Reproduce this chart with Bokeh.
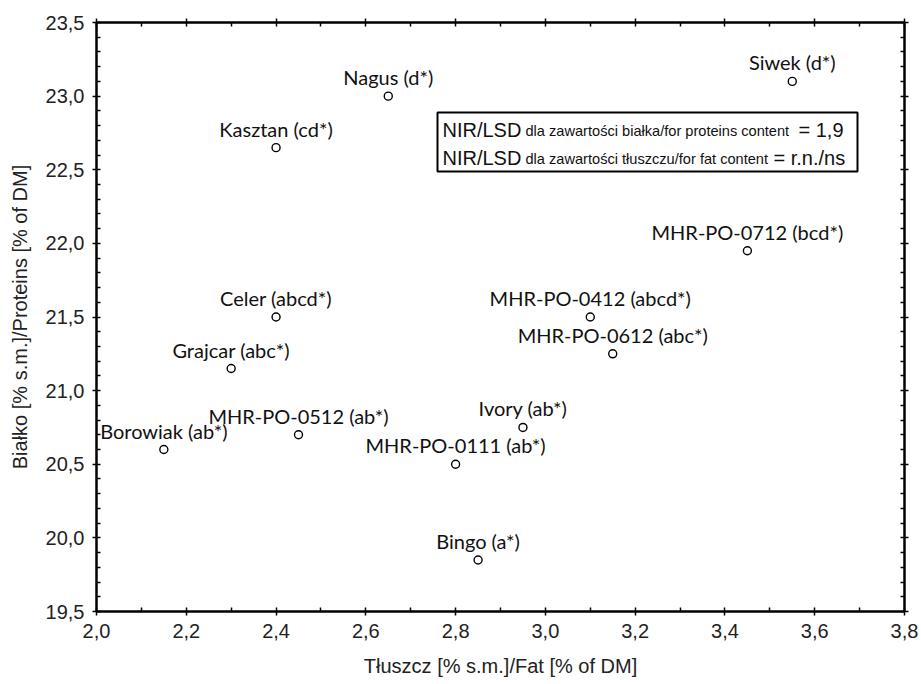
from bokeh.plotting import figure
from bokeh.models import (Range1d, SingleIntervalTicker, LinearAxis,
                          CustomJSTickFormatter, Label, BoxAnnotation, ColumnDataSource)
from bokeh.embed import file_html
from bokeh.resources import INLINE
from bokeh.core.properties import value

# ---------------- data ----------------
names = ["Borowiak (ab*)", "Grajcar (abc*)", "Celer (abcd*)", "Kasztan (cd*)",
         "MHR-PO-0512 (ab*)", "Nagus (d*)", "MHR-PO-0111 (ab*)", "Bingo (a*)",
         "Ivory (ab*)", "MHR-PO-0412 (abcd*)", "MHR-PO-0612 (abc*)",
         "MHR-PO-0712 (bcd*)", "Siwek (d*)"]
fat = [2.15, 2.30, 2.40, 2.40, 2.45, 2.65, 2.80, 2.85, 2.95, 3.10, 3.15, 3.45, 3.55]
protein = [20.60, 21.15, 21.50, 22.65, 20.70, 23.00, 20.50, 19.85, 20.75,
           21.50, 21.25, 21.95, 23.10]

x_title = "Tłuszcz [% s.m.]/Fat [% of DM]"
y_title = "Białko [% s.m.]/Proteins [% of DM]"
lsd_main = ["NIR/LSD", "NIR/LSD"]
lsd_sub = ["dla zawartości białka/for proteins content",
           "dla zawartości tłuszczu/for fat content"]
lsd_val = ["= 1,9", "= r.n./ns"]

X0, X1 = 2.0, 3.8
Y0, Y1 = 19.5, 23.5
EPS = 1e-9

# ---------------- layout ----------------
W, H = 921, 684
FL, FR, FT, FB = 96, 904, 22, 611   # frame edges in pixels

p = figure(width=W, height=H, output_backend="svg", toolbar_location=None,
           x_range=Range1d(X0, X1 + EPS), y_range=Range1d(Y0, Y1 + EPS),
           min_border_left=FL, min_border_right=W - FR,
           min_border_top=FT, min_border_bottom=H - FB,
           x_axis_type=None, y_axis_type=None)
p.background_fill_color = "white"
p.border_fill_color = "white"
p.outline_line_color = "black"
p.outline_line_width = 2

fmt = CustomJSTickFormatter(code="return tick.toFixed(1).replace('.', ',');")
blank = CustomJSTickFormatter(code="return '';")


def make_axis(ticker, formatter, show):
    ax = LinearAxis(ticker=ticker, formatter=formatter)
    ax.axis_line_color = "black"
    ax.axis_line_width = 2
    ax.major_tick_line_color = "black"
    ax.major_tick_line_width = 1.5
    ax.minor_tick_line_color = "black"
    ax.minor_tick_line_width = 1.5
    ax.major_tick_in = 0
    ax.major_tick_out = 4
    ax.minor_tick_in = 4
    ax.minor_tick_out = 0
    if show:
        ax.major_label_text_font = "Liberation Sans"
        ax.major_label_text_font_size = "20px"
        ax.major_label_text_color = "#222222"
        ax.major_label_standoff = 8
        ax.axis_label_text_font = "Liberation Sans"
        ax.axis_label_text_font_size = "20px"
        ax.axis_label_text_font_style = "normal"
        ax.axis_label_text_color = "#222222"
    else:
        ax.major_label_text_font_size = "0px"
        ax.major_label_standoff = 0
    return ax


xt = SingleIntervalTicker(interval=0.2, num_minor_ticks=2)
yt = SingleIntervalTicker(interval=0.5, num_minor_ticks=5)

xb = make_axis(xt, fmt, True)
xb.axis_label = x_title
xb.axis_label_standoff = 14
p.add_layout(xb, "below")

yl = make_axis(yt, fmt, True)
yl.axis_label = y_title
yl.axis_label_standoff = 12
p.add_layout(yl, "left")

p.add_layout(make_axis(SingleIntervalTicker(interval=0.2, num_minor_ticks=2), blank, False), "above")
p.add_layout(make_axis(SingleIntervalTicker(interval=0.5, num_minor_ticks=5), blank, False), "right")

p.xgrid.ticker = xt
p.ygrid.ticker = yt
p.xgrid.grid_line_color = "#d9d9d9"
p.ygrid.grid_line_color = "#d9d9d9"
p.xgrid.grid_line_width = 1
p.ygrid.grid_line_width = 1

src = ColumnDataSource(dict(x=fat, y=protein, name=names))

p.scatter("x", "y", source=src, marker="circle", size=8,
          fill_color="white", line_color="black", line_width=1.4)
p.text("x", "y", text="name", source=src, text_align="center",
       text_baseline="alphabetic", y_offset=-19,
       text_font=value("Lato"), text_font_size="20px", text_color="#111111")


# ---------------- NIR/LSD box ----------------
def dx(px):
    return X0 + (px - FL) / (FR - FL) * (X1 - X0)


def dy(py):
    return Y1 - (py - FT) / (FB - FT) * (Y1 - Y0)


box = BoxAnnotation(left=dx(437), right=dx(857), top=dy(112), bottom=dy(171),
                    fill_color="white", fill_alpha=1.0,
                    line_color="black", line_alpha=1.0, line_width=2)
p.add_layout(box)

row_base = [129, 157]
val_x = [798, 773]
for i in range(2):
    p.add_layout(Label(x=dx(442), y=dy(row_base[i]), text=lsd_main[i],
                       text_font="Liberation Sans", text_font_size="20px",
                       text_color="#111111", text_baseline="alphabetic"))
    p.add_layout(Label(x=dx(525), y=dy(row_base[i] + 1), text=lsd_sub[i],
                       text_font="Liberation Sans", text_font_size="14.6px",
                       text_color="#111111", text_baseline="alphabetic"))
    p.add_layout(Label(x=dx(val_x[i]), y=dy(row_base[i]), text=lsd_val[i],
                       text_font="Liberation Sans", text_font_size="20px",
                       text_color="#111111", text_baseline="alphabetic"))

open("out.html", "w").write(file_html(p, INLINE))
